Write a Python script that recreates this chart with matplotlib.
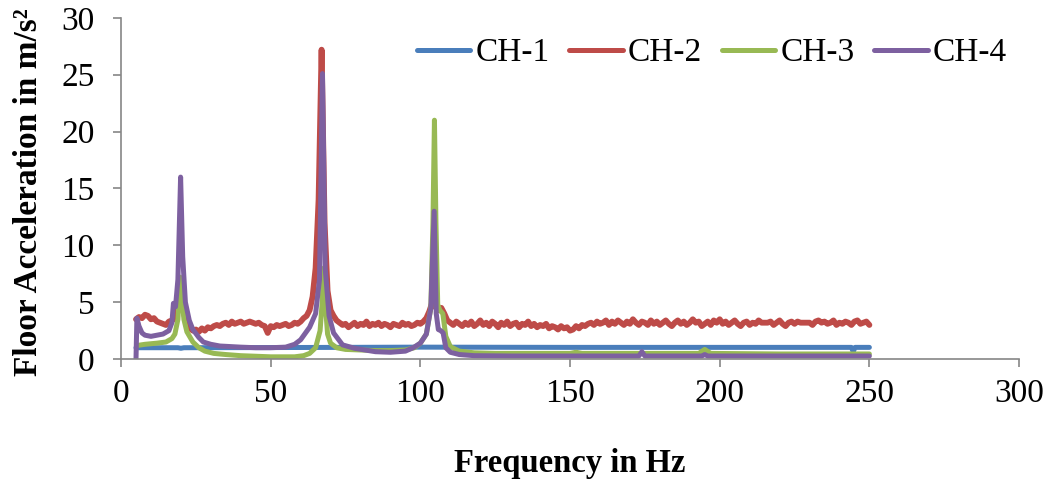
import matplotlib
matplotlib.use('Agg')
import matplotlib.pyplot as plt
import numpy as np

plt.rcParams['font.family'] = ['Liberation Serif', 'DejaVu Serif']

# CH-1 (blue), nearly flat
ch1_x = [5, 19, 20, 21, 60, 100, 150, 200, 244, 244.6, 245.2, 250]
ch1_y = [1.0, 1.0, 0.95, 1.0, 1.02, 1.05, 1.03, 1.03, 1.03, 0.65, 1.03, 1.03]

# CH-2 (red), 1 Hz steps from 5 to 250 Hz
ch2_x = list(range(5, 251))
ch2_y = [3.5, 3.7, 3.6, 3.9, 3.8, 3.5, 3.6, 3.3, 3.2, 3.1,
         3.0, 3.3, 3.4, 3.6, 4.5, 5.2, 4.0, 3.1, 2.7, 2.5,
         2.6, 2.4, 2.7, 2.5, 2.8, 2.7, 2.9, 3.0, 2.9, 3.1,
         3.2, 3.0, 3.3, 3.1, 3.2, 3.3, 3.1, 3.2, 3.3, 3.2,
         3.1, 3.2, 3.0, 2.9, 2.3, 2.9, 2.8, 3.0, 2.9, 3.0,
         3.1, 2.9, 3.0, 3.2, 3.1, 3.3, 3.6, 3.8, 4.3, 5.5,
         8.0, 14.0, 27.2, 12.0, 6.0, 4.3, 3.8, 3.4, 3.2, 3.0,
         3.1, 2.8, 3.0, 3.2, 2.9, 3.1, 3.0, 3.3, 2.9, 3.1,
         3.0, 3.2, 2.9, 3.1, 3.0, 2.8, 3.1, 3.0, 2.9, 3.2,
         3.0, 3.1, 2.9, 3.0, 3.2, 3.1, 3.3, 3.6, 4.2, 5.0,
         4.6, 4.3, 4.5, 4.0, 3.4, 3.2, 3.0, 3.3, 3.1, 2.9,
         3.2, 3.0, 3.3, 2.9, 3.1, 3.4, 3.0, 3.2, 2.9, 3.3,
         3.1, 2.8, 3.2, 3.0, 3.3, 2.9, 3.1, 3.2, 2.8, 3.1,
         3.0, 3.3, 2.9, 3.1, 2.8, 3.0, 2.9, 3.1, 2.7, 2.9,
         2.8, 2.6, 2.9, 2.7, 2.8, 2.5, 2.6, 2.9, 2.7, 3.0,
         2.9, 3.1, 3.2, 3.0, 3.3, 3.1, 3.2, 3.4, 3.0, 3.3,
         3.1, 3.4, 3.2, 3.0, 3.3, 3.1, 3.5, 3.2, 3.0, 3.3,
         3.2, 3.0, 3.4, 3.1, 3.3, 3.0, 3.2, 3.4, 3.1, 2.9,
         3.2, 3.4, 3.1, 3.3, 3.0, 3.2, 3.5, 3.2, 3.3, 2.9,
         3.1, 3.3, 3.0, 3.4, 3.2, 3.5, 3.1, 3.3, 3.0, 3.2,
         3.4, 3.1, 2.9, 3.2, 3.3, 3.0, 3.2, 3.1, 3.4, 3.2,
         3.2, 3.2, 3.3, 3.0, 3.2, 3.4, 3.1, 2.9, 3.2, 3.3,
         3.1, 3.3, 3.2, 3.2, 3.2, 3.2, 3.0, 3.3, 3.4, 3.2,
         3.3, 3.1, 3.2, 3.4, 3.0, 3.2, 3.1, 3.3, 3.2, 3.0,
         3.3, 3.4, 3.1, 3.2, 3.3, 3.0]

# CH-3 (green)
ch3_x = [5.5, 8, 12, 15, 17, 18, 19, 19.8, 20.4, 21, 22, 24, 26, 28, 31, 35,
         40, 45, 50, 55, 58, 61, 63, 65, 66.5, 67.2, 67.7, 68.2, 69, 70, 72, 75,
         80, 85, 90, 95, 98, 100, 102, 103.5, 104.2, 104.7, 105.2, 105.8,
         106.5, 107.5, 108.5, 110, 113, 118, 125, 140, 150, 152, 154, 170,
         193, 195, 197, 220, 250]
ch3_y = [1.2, 1.3, 1.4, 1.5, 1.8, 2.2, 3.5, 7.2, 5.5, 3.5, 2.4, 1.5, 1.0, 0.7, 0.5, 0.4,
         0.3, 0.25, 0.2, 0.2, 0.2, 0.3, 0.5, 1.0, 2.5, 5.0, 8.0, 5.0, 2.2, 1.4, 1.0, 0.85,
         0.8, 0.75, 0.75, 0.8, 1.0, 1.4, 2.2, 4.5, 12.0, 21.0, 12.0, 4.8,
         4.3, 4.0, 2.0, 1.1, 0.7, 0.55, 0.5, 0.5, 0.5, 0.6, 0.5, 0.5,
         0.5, 0.85, 0.5, 0.45, 0.45]

# CH-4 (purple)
ch4_x = [5, 5.3, 6, 7, 8, 10, 12, 14, 16, 17, 17.5, 18.2, 19, 19.9, 20.6, 21.5,
         22.8, 24, 26, 27.5, 30, 33, 40, 45, 50, 55, 58, 60, 63, 65, 66.3, 67.3,
         68.2, 69.5, 71, 74, 78, 85, 90, 95, 97.6, 100, 102, 103.5, 104.6,
         105.3, 106, 106.8, 107.6, 108.5, 110, 113, 118, 130, 173, 174, 175,
         194, 195, 196, 250]
ch4_y = [0.0, 3.6, 2.9, 2.3, 2.1, 2.0, 2.1, 2.2, 2.5, 3.2, 4.9, 4.6, 7.0, 16.0, 9.0, 5.0,
         3.4, 2.6, 1.9, 1.5, 1.3, 1.15, 1.05, 1.0, 1.0, 1.05, 1.3, 1.7, 2.8, 4.0, 7.0, 25.1,
         8.0, 3.8, 2.3, 1.25, 0.95, 0.65, 0.6, 0.7, 1.0, 1.4, 2.2, 4.5, 13.0,
         4.0, 2.6, 2.5, 2.3, 1.0, 0.6, 0.4, 0.3, 0.27, 0.27, 0.65, 0.27,
         0.27, 0.4, 0.27, 0.27]

series = [('CH-1', ch1_x, ch1_y, '#4A7EBB', 3.6),
          ('CH-2', ch2_x, ch2_y, '#BE4B48', 4.2),
          ('CH-3', ch3_x, ch3_y, '#98B954', 3.6),
          ('CH-4', ch4_x, ch4_y, '#7D60A0', 3.6)]

fig = plt.figure(figsize=(10.47, 4.82), dpi=100)
ax = fig.add_axes([0.1156, 0.255, 0.8577, 0.708])

for name, xs, ys, col, lw in series:
    ax.plot(xs, ys, color=col, lw=lw, label=name,
            solid_capstyle='round', solid_joinstyle='round')

ax.set_xlim(0, 300)
ax.set_ylim(0, 30)
ax.set_xticks(np.arange(0, 301, 50))
ax.set_yticks(np.arange(0, 31, 5))

for s in ['top', 'right']:
    ax.spines[s].set_visible(False)
for s in ['left', 'bottom']:
    ax.spines[s].set_color('#868686')
    ax.spines[s].set_linewidth(1.2)
ax.tick_params(direction='out', length=6, width=1.2, color='#868686', labelsize=24)
ax.tick_params(axis='x', pad=8)
ax.tick_params(axis='y', pad=13)

ax.set_xlabel('Frequency in Hz', fontsize=23.5, fontweight='bold', labelpad=28)
ax.set_ylabel('Floor Acceleration in m/s²', fontsize=24, fontweight='bold')
ax.yaxis.set_label_coords(-0.086, 0.49)

leg = fig.legend(loc='center', bbox_to_anchor=(0.68, 0.89), ncol=4, frameon=False,
                 fontsize=24, handlelength=1.6, handletextpad=0.15, columnspacing=0.6)
for h in leg.legend_handles:
    h.set_linewidth(3.6)

fig.savefig('out.png', dpi=100)
